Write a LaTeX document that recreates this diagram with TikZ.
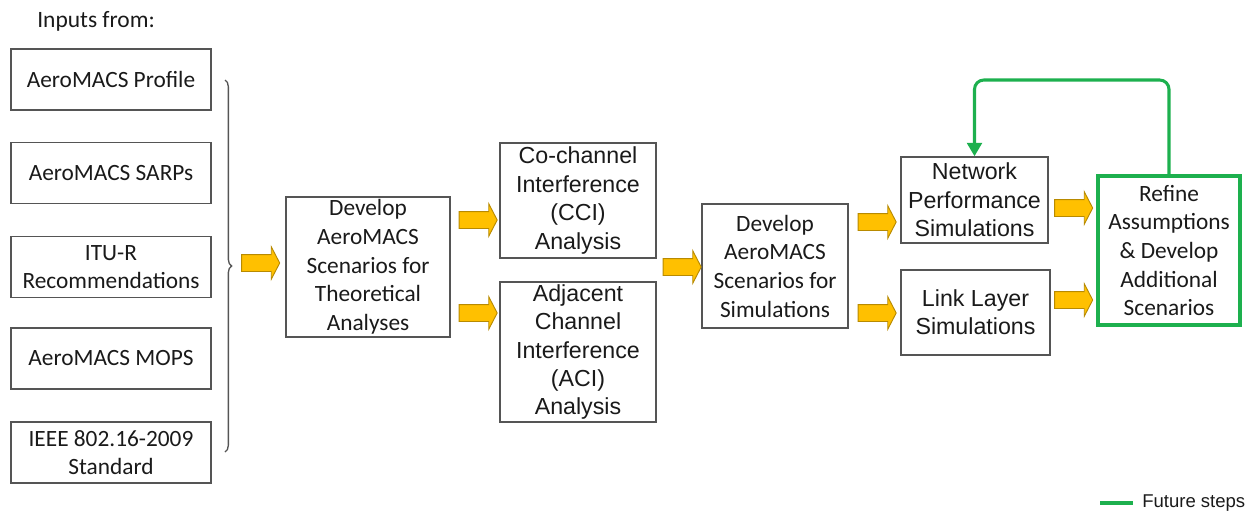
\documentclass[tikz,border=0pt]{standalone}
\usepackage{fontspec}
\setmainfont{Carlito}
\newfontfamily\arialfont{Liberation Sans}
\usetikzlibrary{shapes.arrows,arrows.meta,decorations.pathreplacing}
\definecolor{boxgray}{HTML}{555555}
\definecolor{textc}{HTML}{1A1A1A}
\definecolor{flowyellow}{HTML}{FFC000}
\definecolor{flowedge}{HTML}{B88A00}
\definecolor{futuregreen}{HTML}{1DB04E}
\tikzset{
  box/.style={draw=boxgray, line width=1.1pt, fill=white, align=center,
    text=textc, inner sep=0pt, font=\fontsize{17.5}{21.5}\selectfont},
  sansbox/.style={box, font=\arialfont\fontsize{17.4}{21.3}\selectfont},
  inbox/.style={box, minimum width=150pt, minimum height=46pt},
  yarrow/.style={single arrow, draw=flowedge, fill=flowyellow, line width=0.7pt,
    minimum height=28.5pt, minimum width=0pt, inner sep=6pt,
    single arrow head extend=5.8pt, single arrow tip angle=125},
  future/.style={draw=futuregreen, line width=2.3pt},
}
\begin{document}
\begin{tikzpicture}[x=0.75pt, y=-0.75pt]
\useasboundingbox (0,0) rectangle (1254,515);

% heading
\node[anchor=base west, inner sep=0pt, text=textc, font=\fontsize{17.6}{21.5}\selectfont]
  (head) at (37,27) {Inputs from:};

% input documents
\node[inbox] (in1) at (111,79.5) {AeroMACS Profile};
\node[inbox] (in2) at (111,173) {AeroMACS SARPs};
\node[inbox] (in3) at (111,267) {ITU-R\\Recommendations};
\node[inbox] (in4) at (111,358.5) {AeroMACS MOPS};
\node[inbox] (in5) at (111,452.5) {IEEE 802.16-2009\\Standard};

% brace gathering the inputs
\coordinate (bt) at (225,80);
\coordinate (bb) at (225,452);
\draw[boxgray, line width=1pt, decorate, decoration={brace, amplitude=5pt}] (bt) -- (bb);

% processing steps
\node[box, minimum width=123pt, minimum height=105pt] (dev1) at (368,267)
  {Develop\\AeroMACS\\Scenarios for\\Theoretical\\Analyses};
\node[sansbox, minimum width=117pt, minimum height=86.25pt] (cci) at (578,200.5)
  {Co-channel\\Interference\\(CCI)\\Analysis};
\node[sansbox, minimum width=117pt, minimum height=105pt] (aci) at (578,352)
  {Adjacent\\Channel\\Interference\\(ACI)\\Analysis};
\node[box, minimum width=109.5pt, minimum height=93pt] (dev2) at (775,266)
  {Develop\\AeroMACS\\Scenarios for\\Simulations};
\node[sansbox, minimum width=110.25pt, minimum height=64.5pt] (net) at (974.5,200)
  {Network\\Performance\\Simulations};
\node[sansbox, minimum width=111.75pt, minimum height=63.75pt] (link) at (975.5,312.5)
  {Link Layer\\Simulations};
\node[box, draw=futuregreen, line width=2.3pt, minimum width=106.5pt, minimum height=111.75pt]
  (refine) at (1169,250.5)
  {Refine\\Assumptions\\\& Develop\\Additional\\Scenarios};

% flow arrows
\node[yarrow] (a0) at (258.5,263) {};
\node[yarrow] (a1) at (476,220) {};
\node[yarrow] (a2) at (476,313) {};
\node[yarrow] (a3) at (680,267) {};
\node[yarrow] (a4) at (875,222) {};
\node[yarrow] (a5) at (875,313) {};
\node[yarrow] (a6) at (1071.5,208) {};
\node[yarrow] (a7) at (1071.5,300) {};

% feedback loop
\coordinate (loop) at (1070,80);
\draw[future, rounded corners=7pt, -{Triangle[length=10pt,width=11pt]}]
  (refine.north) -- (refine.north |- loop) -| (net.north);

% legend
\coordinate (lg1) at (1100,503);
\coordinate (lg2) at (1133,503);
\draw[future] (lg1) -- (lg2);
\node[anchor=west, inner sep=0pt, text=textc, font=\arialfont\fontsize{13.9}{16}\selectfont]
  (lgtext) at (1142,503) {Future steps};
\end{tikzpicture}
\end{document}
